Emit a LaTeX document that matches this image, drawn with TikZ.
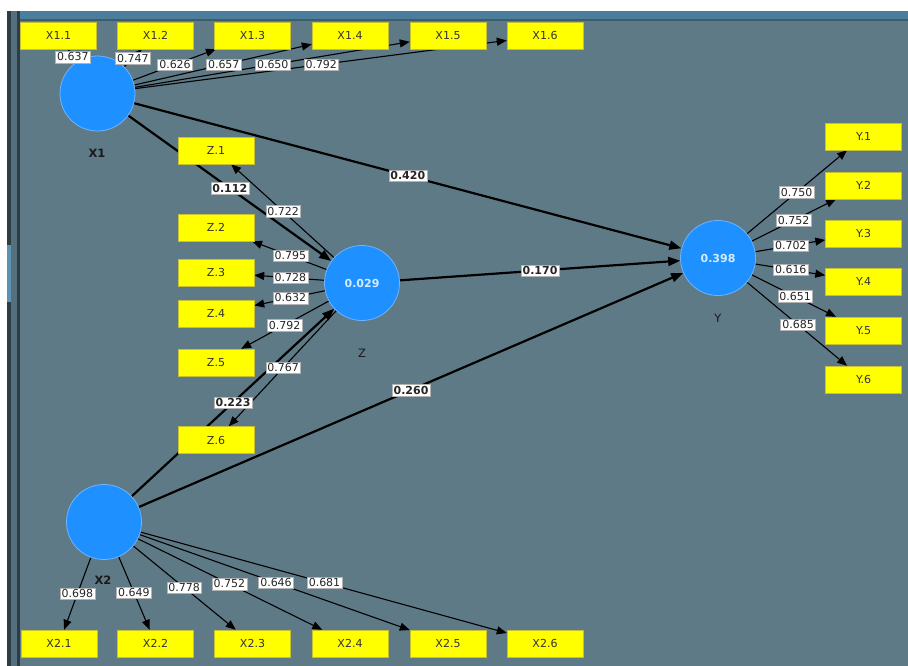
\documentclass[tikz,border=0pt]{standalone}
\usepackage{fontspec}
\setmainfont{DejaVu Sans}
\usetikzlibrary{arrows.meta}
\pgfdeclarelayer{bg}
\pgfdeclarelayer{edges}
\pgfsetlayers{bg,edges,main}
\definecolor{canvas}{HTML}{5F7A87}
\definecolor{topband}{HTML}{4C7D9A}
\definecolor{topline}{HTML}{3E5B6B}
\definecolor{bardark}{HTML}{2E3C45}
\definecolor{barmid}{HTML}{55707C}
\definecolor{barlight}{HTML}{5B93B5}
\definecolor{boxyellow}{HTML}{FFFF00}
\definecolor{lvblue}{HTML}{1E90FF}
\definecolor{lvedge}{HTML}{6DB6FF}
\definecolor{lvtext}{HTML}{D2ECFF}
\tikzset{
  ind/.style={rectangle, fill=boxyellow, draw=yellow!75!black, line width=0.4pt,
    minimum width=76pt, minimum height=27pt, inner sep=0pt,
    font=\fontsize{11}{13}\selectfont, text=black!80},
  lv/.style={circle, fill=lvblue, draw=lvedge, line width=0.8pt,
    minimum size=75pt, inner sep=0pt, text=lvtext,
    font=\fontsize{11}{13}\selectfont\bfseries},
  ld/.style={draw=black, line width=1.1pt, -{Triangle[length=10pt,width=8pt]}},
  sp/.style={draw=black, line width=2.2pt, -{Triangle[length=12pt,width=9pt]}},
  lbl/.style={fill=white, draw=gray!60, line width=0.4pt, inner sep=1.6pt,
    font=\fontsize{11}{12}\selectfont, text=black!85},
  slbl/.style={lbl, font=\fontsize{11}{12}\selectfont\bfseries},
  lvname/.style={font=\fontsize{11.5}{13}\selectfont, text=black!90}
}
\begin{document}
\begin{tikzpicture}[x=1pt,y=-1pt]
\useasboundingbox (0,0) rectangle (908,666);
% frame
\begin{pgfonlayer}{bg}
\fill[white] (0,0) rectangle (908,666);
\fill[canvas] (7,11) rectangle (908,666);
\fill[topband] (7,11) rectangle (908,20);
\fill[topline] (7,19.5) rectangle (908,21);
\fill[bardark] (7,11) rectangle (11,666);
\fill[barlight] (7,245) rectangle (11,302);
\fill[barmid] (11,11) rectangle (17,666);
\fill[bardark] (17,11) rectangle (19.5,666);
\end{pgfonlayer}

% latent variables
\node[lv] (X1) at (97.5,93.5) {};
\node[lv] (Z) at (362,283) {0.029};
\node[lv] (Y) at (718,258) {0.398};
\node[lv] (X2) at (104,522) {};
\node[lvname, font=\fontsize{11.5}{13}\selectfont\bfseries] (nX1) at (97,153) {X1};
\node[lvname] (nZ) at (362,353) {Z};
\node[lvname] (nY) at (718,318) {Y};
\node[lvname, font=\fontsize{11.5}{13}\selectfont\bfseries] (nX2) at (103,580) {X2};

% indicators
\foreach \i/\x in {1/58.5,2/155.5,3/252.5,4/350,5/448,6/545}
  \node[ind] (X1\i) at (\x,35.5) {X1.\i};
\foreach \i/\x in {1/59,2/155.5,3/252.5,4/350,5/448,6/545}
  \node[ind] (X2\i) at (\x,643.5) {X2.\i};
\foreach \i/\y in {1/150.5,2/227.5,3/272.5,4/313.5,5/362.5,6/440}
  \node[ind] (Z\i) at (216,\y) {Z.\i};
\foreach \i/\y in {1/136.5,2/185.5,3/233.5,4/281.5,5/330.5,6/379.5}
  \node[ind] (Y\i) at (863.5,\y) {Y.\i};

% connectors
\begin{pgfonlayer}{edges}
\foreach \i in {1,...,6} {
  \draw[ld] (X1) -- (X1\i);
  \draw[ld] (X2) -- (X2\i);
  \draw[ld] (Z) -- (Z\i);
  \draw[ld] (Y) -- (Y\i);
}
\draw[sp] (X1) -- (Z);
\draw[sp] (X2) -- (Z);
\draw[sp] (X1) -- (Y);
\draw[sp] (Z) -- (Y);
\draw[sp] (X2) -- (Y);
\end{pgfonlayer}

% loading labels
\foreach \i/\t/\v in {1/0.63/0.637,2/0.61/0.747,3/0.5/0.626,4/0.5/0.657,5/0.5/0.650,6/0.5/0.792}
  \path (X1.center) -- (X1\i.center) node[lbl,pos=\t] (lX1\i) {\v};
\foreach \i/\t/\v in {1/0.59/0.698,2/0.58/0.649,3/0.54/0.778,4/0.51/0.752,5/0.5/0.646,6/0.5/0.681}
  \path (X2.center) -- (X2\i.center) node[lbl,pos=\t] (lX2\i) {\v};
\foreach \i/\t/\v in {1/0.54/0.722,2/0.49/0.795,3/0.49/0.728,4/0.49/0.632,5/0.53/0.792,6/0.54/0.767}
  \path (Z.center) -- (Z\i.center) node[lbl,pos=\t] (lZ\i) {\v};
\foreach \i/\t/\v in {1/0.54/0.750,2/0.52/0.752,3/0.5/0.702,4/0.5/0.616,5/0.53/0.651,6/0.55/0.685}
  \path (Y.center) -- (Y\i.center) node[lbl,pos=\t] (lY\i) {\v};

% path coefficients
\path (X1.center) -- (Z.center) node[slbl,pos=0.5] (pX1Z) {0.112};
\path (X2.center) -- (Z.center) node[slbl,pos=0.5] (pX2Z) {0.223};
\path (X1.center) -- (Y.center) node[slbl,pos=0.5] (pX1Y) {0.420};
\path (Z.center) -- (Y.center) node[slbl,pos=0.5] (pZY) {0.170};
\path (X2.center) -- (Y.center) node[slbl,pos=0.5] (pX2Y) {0.260};
\end{tikzpicture}
\end{document}
